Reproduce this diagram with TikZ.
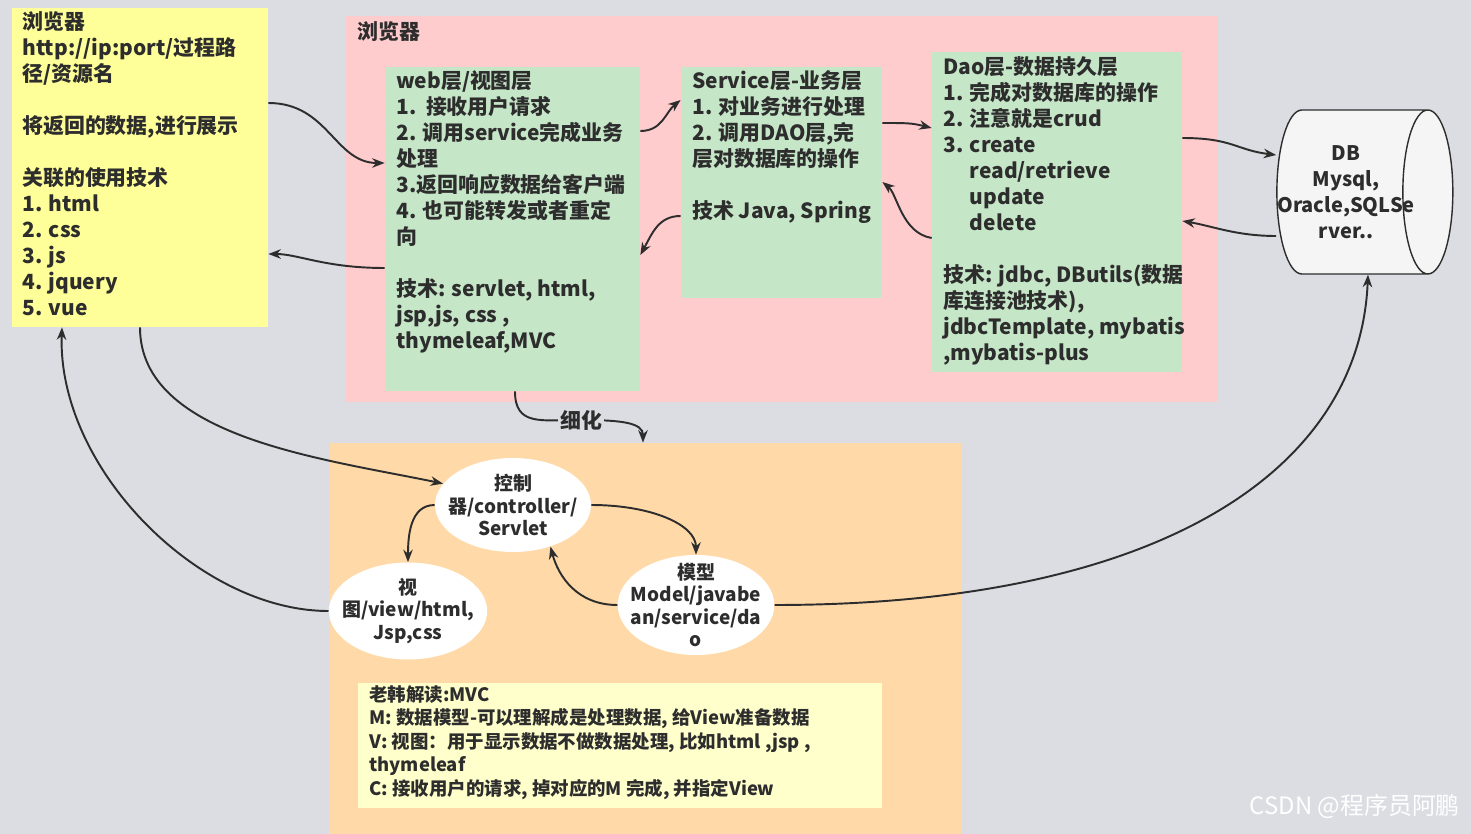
\documentclass[tikz,border=0pt]{standalone}
\usepackage{fontspec}
\setmainfont{Noto Sans CJK SC}
\usetikzlibrary{arrows.meta,shapes.geometric,fit}

\definecolor{bggray}{RGB}{219,221,226}
\definecolor{noteyellow}{RGB}{255,255,153}
\definecolor{layerpink}{RGB}{255,204,206}
\definecolor{layergreen}{RGB}{198,230,200}
\definecolor{mvcorange}{RGB}{255,218,168}
\definecolor{hintyellow}{RGB}{255,255,204}
\definecolor{dbwhite}{RGB}{245,245,245}
\definecolor{inkgray}{RGB}{45,45,45}

\begin{document}
\begin{tikzpicture}[
  x=0.02cm, y=-0.02cm,
  >={Stealth[length=2.5mm,width=1.9mm]},
  panel/.style={fill=#1,inner sep=0pt},
  txt/.style={anchor=north west,align=left,inner sep=0pt,text=inkgray,
    font=\bfseries\fontsize{11.9}{14.8}\selectfont},
  small/.style={anchor=north west,align=left,inner sep=0pt,text=inkgray,
    font=\bfseries\fontsize{10.5}{13.4}\selectfont},
  bubble/.style={ellipse,fill=white,inner xsep=-0.2cm,inner ysep=0pt,align=center,
    text=inkgray,font=\bfseries\fontsize{10.8}{12.8}\selectfont},
  dbstore/.style={cylinder,shape aspect=0.5,draw=inkgray,line width=0.8pt,
    fill=dbwhite,inner sep=0pt},
  flow/.style={->,line width=1.1pt,draw=inkgray}
]
  \fill[bggray] (0,0) rectangle (1471,834);
  \useasboundingbox (0,0) rectangle (1471,834);

  % panels
  \node[panel=noteyellow,fit={(12,8) (268,327)}] (browser) {};
  \node[panel=layerpink,fit={(345,16) (1218,402)}] (server) {};
  \node[panel=layergreen,fit={(385,67) (640,391)}] (web) {};
  \node[panel=layergreen,fit={(681,67) (882,298)}] (service) {};
  \node[panel=layergreen,fit={(932,52) (1182,372)}] (dao) {};
  \node[panel=mvcorange,fit={(330,443) (961,834)}] (mvc) {};
  \node[panel=hintyellow,fit={(358,683) (882,808)}] (hint) {};

  % texts
  \node[txt] (browsertext) at (22,11) {浏览器\\http://ip:port/过程路\\径/资源名\\ \mbox{}\\
    将返回的数据,进行展示\\ \mbox{}\\关联的使用技术\\1. html\\2. css\\3. js\\4. jquery\\5. vue};
  \node[txt] (servertitle) at (357,21) {浏览器};
  \node[txt] (webtext) at (396,70) {web层/视图层\\1.\ \ 接收用户请求\\2. 调用service完成业务\\处理\\
    3.返回响应数据给客户端\\4. 也可能转发或者重定\\向\\ \mbox{}\\技术: servlet, html,\\
    jsp,js, css ,\\thymeleaf,MVC};
  \node[txt] (servicetext) at (692,70) {Service层-业务层\\1. 对业务进行处理\\2. 调用DAO层,完\\
    层对数据库的操作\\ \mbox{}\\技术 Java, Spring};
  \node[txt] (daotext) at (943,56) {Dao层-数据持久层\\1. 完成对数据库的操作\\2. 注意就是crud\\3. create\\
    \phantom{3. }read/retrieve\\\phantom{3. }update\\\phantom{3. }delete\\ \mbox{}\\
    技术: jdbc, DButils(数据\\库连接池技术),\\jdbcTemplate, mybatis\\,mybatis-plus};
  \node[small] (hinttext) at (369,685) {老韩解读:MVC\\M: 数据模型-可以理解成是处理数据, 给View准备数据\\
    V: 视图：用于显示数据不做数据处理, 比如html ,jsp ,\\thymeleaf\\
    C: 接收用户的请求, 掉对应的M 完成, 并指定View};

  % database and mvc parts
  \node[dbstore,minimum width=3.28cm,minimum height=3.52cm] (db) at (1352,192) {\rule{0pt}{2cm}};
  \node[txt,anchor=center,align=center,font=\bfseries\fontsize{11.4}{14.8}\selectfont]
    (dbtext) at (1346,192) {DB\\Mysql,\\Oracle,SQLSe\\rver..};
  \node[bubble,minimum width=3.12cm,minimum height=1.88cm] (ctrl) at (513,505)
    {控制\\器/controller/\\Servlet};
  \node[bubble,minimum width=3.12cm,minimum height=1.94cm] (view) at (408,611)
    {视\\图/view/html,\\Jsp,css};
  \node[bubble,inner ysep=-0.2cm,minimum width=3.04cm,minimum height=2cm] (model) at (696,605)
    {模型\\Model/javabe\\an/service/da\\o};

  % connectors
  \draw[flow] (browser.east |- 0,103) .. controls +(60,0) and +(-50,0) .. (web.west |- 0,163);
  \draw[flow] (web.west |- 0,268) .. controls +(-60,0) and +(30,0) .. (browser.east |- 0,254);
  \draw[flow] (web.east |- 0,131) .. controls +(22,0) and +(-15,12) .. (service.west |- 0,100);
  \draw[flow] (service.west |- 0,216) .. controls +(-22,0) and +(12,-22) .. (web.east |- 0,255);
  \draw[flow] (service.east |- 0,123) .. controls +(25,0) and +(-20,-5) .. (dao.west |- 0,128);
  \draw[flow] (dao.west |- 0,238) .. controls +(-30,-5) and +(15,12) .. (service.east |- 0,182);
  \draw[flow] (dao.east |- 0,138) .. controls +(50,0) and +(-40,-5) .. (db.west |- 0,155);
  \draw[flow] (db.west |- 0,236) .. controls +(-40,0) and +(30,5) .. (dao.east |- 0,221);
  \draw[flow] (web.south -| 515,0) .. controls +(0,35) and +(-40,0) .. (581,420)
    node[txt,anchor=center,fill=bggray,inner sep=1pt] (refine) {细化}
    .. controls +(40,0) and +(0,-20) .. (mvc.north -| 643,0);
  \draw[flow] (browser.south -| 140,0) .. controls +(0,110) and +(-120,-25) .. (ctrl.163);
  \draw[flow] (view.west) .. controls +(-130,0) and +(-5,140) .. (browser.south -| 62,0);
  \draw[flow] (ctrl.west) .. controls +(-25,0) and +(0,-25) .. (view.north);
  \draw[flow] (ctrl.east) .. controls +(60,0) and +(0,-30) .. (model.north);
  \draw[flow] (model.west) .. controls +(-40,0) and +(8,30) .. (ctrl.-48);
  \draw[flow] (model.east) .. controls +(390,0) and +(-8,193) .. (db.south -| 1368,0);

  \node[anchor=east,text=white,font=\fontsize{13.6}{16}\selectfont] (mark) at (1466,806)
    {CSDN @程序员阿鹏};
\end{tikzpicture}
\end{document}
